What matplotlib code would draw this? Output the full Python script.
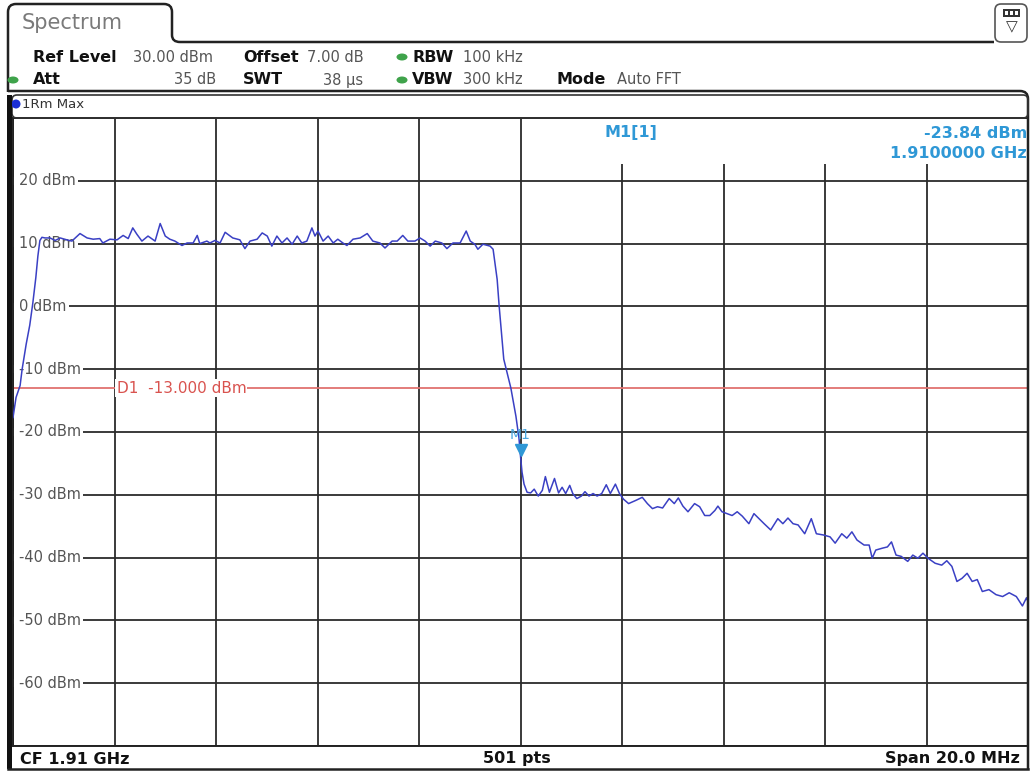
import matplotlib
matplotlib.use("Agg")
import matplotlib.pyplot as plt
from matplotlib.path import Path
from matplotlib.patches import PathPatch, FancyBboxPatch, Rectangle, Ellipse, Circle
from matplotlib.transforms import blended_transform_factory, ScaledTranslation

W, H = 1030, 771

# sweep settings
start_mhz = 1900.0
span_mhz = 20.0
n_points = 501

# trace (frequency offset from start, MHz) and level (dBm)
offset_mhz = [
    0.00, 0.06, 0.14, 0.18, 0.26, 0.33, 0.39, 0.45, 0.49, 0.53,
    0.57, 0.63, 0.73, 0.83, 0.93, 1.06, 1.16, 1.32, 1.46, 1.58,
    1.71, 1.77, 1.91, 2.05, 2.17, 2.27, 2.36, 2.44, 2.54, 2.66,
    2.80, 2.90, 3.00, 3.09, 3.19, 3.33, 3.43, 3.55, 3.63, 3.68,
    3.82, 3.88, 3.98, 4.08, 4.18, 4.33, 4.47, 4.57, 4.67, 4.81,
    4.91, 5.01, 5.10, 5.20, 5.30, 5.40, 5.50, 5.60, 5.69, 5.79,
    5.89, 5.95, 6.01, 6.11, 6.21, 6.31, 6.40, 6.50, 6.58, 6.70,
    6.84, 6.98, 7.09, 7.23, 7.33, 7.47, 7.57, 7.68, 7.78, 7.92,
    8.02, 8.12, 8.22, 8.32, 8.45, 8.55, 8.67, 8.81, 8.93, 9.01,
    9.10, 9.16, 9.26, 9.40, 9.46, 9.54, 9.58, 9.67, 9.75, 9.81,
    9.91, 9.97, 10.00, 10.03, 10.07, 10.13, 10.20, 10.27, 10.35, 10.43,
    10.49, 10.57, 10.67, 10.75, 10.82, 10.89, 10.97, 11.03, 11.11, 11.20,
    11.27, 11.35, 11.43, 11.51, 11.60, 11.69, 11.77, 11.87, 11.95, 12.03,
    12.13, 12.27, 12.40, 12.50, 12.60, 12.70, 12.80, 12.93, 13.03, 13.11,
    13.20, 13.30, 13.43, 13.53, 13.63, 13.73, 13.83, 13.89, 13.97, 14.07,
    14.17, 14.27, 14.37, 14.50, 14.60, 14.70, 14.80, 14.93, 15.07, 15.17,
    15.27, 15.37, 15.47, 15.60, 15.73, 15.83, 15.97, 16.10, 16.20, 16.33,
    16.43, 16.53, 16.63, 16.77, 16.87, 16.93, 17.00, 17.13, 17.23, 17.31,
    17.40, 17.50, 17.63, 17.73, 17.83, 17.93, 18.03, 18.17, 18.30, 18.40,
    18.50, 18.60, 18.70, 18.80, 18.90, 19.00, 19.10, 19.23, 19.37, 19.50,
    19.63, 19.77, 19.89, 19.97, 20.00,
]
level_dbm = [
    -17.7, -14.5, -12.6, -10.0, -6.0, -3.0, 0.5, 4.6, 8.0, 10.5,
    11.0, 10.9, 10.9, 10.5, 10.9, 10.6, 10.4, 11.6, 10.9, 10.7,
    10.8, 10.1, 10.7, 10.6, 11.3, 10.8, 12.5, 11.5, 10.4, 11.2,
    10.4, 13.2, 11.2, 10.7, 10.4, 9.7, 10.1, 10.1, 11.3, 10.0,
    10.4, 10.1, 10.5, 10.1, 11.8, 10.9, 10.6, 9.2, 10.4, 10.7,
    11.7, 11.2, 9.6, 11.2, 10.1, 10.9, 9.9, 11.2, 10.1, 10.4,
    12.5, 11.2, 12.0, 10.4, 11.2, 10.1, 10.7, 10.1, 9.7, 10.7,
    10.9, 11.6, 10.4, 10.1, 9.3, 10.4, 10.4, 11.3, 10.4, 10.4,
    10.9, 10.4, 9.6, 10.4, 10.1, 9.2, 10.1, 10.1, 12.0, 10.4,
    9.9, 9.1, 9.9, 9.6, 9.1, 4.3, 0.0, -8.4, -11.0, -13.0,
    -17.5, -21.0, -23.84, -26.4, -28.3, -29.6, -29.7, -29.1, -30.2, -29.3,
    -27.1, -29.6, -27.4, -29.7, -28.8, -29.8, -28.5, -29.8, -30.6, -30.2,
    -29.5, -30.2, -29.8, -30.2, -29.8, -28.4, -29.8, -28.3, -29.8, -30.7,
    -31.4, -30.9, -30.4, -31.4, -32.2, -31.9, -32.1, -30.6, -31.4, -30.5,
    -31.8, -32.7, -31.4, -31.9, -33.3, -33.3, -32.5, -31.8, -32.7, -33.0,
    -33.3, -32.7, -33.4, -34.6, -33.0, -33.8, -34.6, -35.6, -33.8, -34.6,
    -33.7, -34.6, -34.8, -36.2, -33.8, -36.2, -36.4, -36.7, -37.7, -36.2,
    -36.9, -35.9, -37.2, -38.0, -38.0, -40.1, -38.8, -38.5, -38.3, -37.5,
    -39.6, -39.8, -40.6, -39.6, -40.1, -39.3, -40.1, -40.9, -41.2, -40.5,
    -41.4, -43.8, -43.3, -42.5, -43.8, -43.5, -45.4, -45.1, -45.9, -46.2,
    -45.6, -46.2, -47.7, -46.4, -47.0,
]

ref_level = 30
bottom_level = -70
level_ticks = [20, 10, 0, -10, -20, -30, -40, -50, -60]
display_line = -13.0
marker_mhz = 1910.0
marker_level = -23.84

row1 = [("Ref Level", "30.00 dBm"), ("Offset", "7.00 dB"), ("RBW", "100 kHz")]
row2 = [("Att", "35 dB"), ("SWT", "38 µs"), ("VBW", "300 kHz"), ("Mode", "Auto FFT")]

freq_mhz = [start_mhz + f for f in offset_mhz]
center_mhz = start_mhz + span_mhz / 2

GRID = "#2b2b2b"
TRACE = "#3a40c4"
MARK = "#2f98d6"
RED = "#e07270"
GREEN = "#3fa34b"

fig = plt.figure(figsize=(W / 100, H / 100), dpi=100)
fig.patch.set_facecolor("white")

# ---- main plot area (pixel box 13..1028 x 118..746)
x0, x1, y0, y1 = 13, 1028, 118, 746
ax = fig.add_axes([x0 / W, 1 - y1 / H, (x1 - x0) / W, (y1 - y0) / H], zorder=1)
ax.set_xlim(start_mhz, start_mhz + span_mhz)
ax.set_ylim(bottom_level, ref_level)
ax.set_xticks([start_mhz + 2 * i for i in range(11)])
ax.set_yticks(range(bottom_level, ref_level + 1, 10))
ax.set_axisbelow(True)
ax.grid(True, color=GRID, lw=1.3)
ax.tick_params(length=0, labelleft=False, labelbottom=False)
for s in ax.spines.values():
    s.set_color("#222222")
    s.set_linewidth(1.4)

# white box for marker readout hides the grid there
ax.add_patch(Rectangle(((540 - x0) / (x1 - x0), (y1 - 164) / (y1 - y0)), 1, 1,
                       transform=ax.transAxes, fc="white", ec="none", zorder=1))

# level labels sit inside the grid, the grid line starts after them
lab_tr = blended_transform_factory(ax.transAxes, ax.transData)
for v in level_ticks:
    ax.add_patch(Rectangle((0, v - 0.6), 0.01, 1.2, transform=lab_tr,
                           fc="white", ec="none", zorder=1.1))
    ax.text(0.006, v, f"{v} dBm", transform=lab_tr, ha="left", va="center",
            fontsize=10.5, color="#555555", zorder=1.2,
            bbox=dict(fc="white", ec="none", pad=1.5))

# display line D1
ax.axhline(display_line, color=RED, lw=1.3, zorder=1.5)
ax.text(start_mhz + 2.04, display_line, f"D1  {display_line:.3f} dBm", ha="left", va="center",
        fontsize=11, color="#d9534f", zorder=1.6, bbox=dict(fc="white", ec="none", pad=0.8))

ax.plot(freq_mhz, level_dbm, color=TRACE, lw=1.1, zorder=3)

# marker M1
up = ScaledTranslation(0, 4.5 / 72, fig.dpi_scale_trans)
ax.plot([marker_mhz], [marker_level], marker="v", ms=9, color=MARK, zorder=4,
        transform=ax.transData + up)
ax.annotate("M1", xy=(marker_mhz, marker_level), xytext=(0, 15), textcoords="offset points",
            ha="center", va="center", fontsize=10, color="#4aa8e0", zorder=4)

# ---- overlay in pixel coordinates for the instrument frame
ui = fig.add_axes([0, 0, 1, 1], zorder=5)
ui.set_xlim(0, W)
ui.set_ylim(H, 0)
ui.axis("off")
ui.patch.set_alpha(0)

C3 = Path.CURVE3
tab = Path([(8, 92), (8, 12), (8, 4), (16, 4), (164, 4), (172, 4), (172, 12),
            (172, 35), (172, 42), (180, 42), (994, 42)],
           [Path.MOVETO, Path.LINETO, C3, C3, Path.LINETO, C3, C3, Path.LINETO, C3, C3, Path.LINETO])
ui.add_patch(PathPatch(tab, fill=False, ec="#222222", lw=1.8))
ui.text(22, 23, "Spectrum", fontsize=15, color="#7a7a7a", va="center", ha="left")

# header bottom edge running into the right border
hdr = Path([(8, 91), (1020, 91), (1028, 91), (1028, 99), (1028, 769)],
           [Path.MOVETO, Path.LINETO, C3, C3, Path.LINETO])
ui.add_patch(PathPatch(hdr, fill=False, ec="#222222", lw=1.8))

# settings button at top right
ui.add_patch(FancyBboxPatch((995, 4), 32, 38, boxstyle="round,pad=0,rounding_size=6",
                            fc="white", ec="#555555", lw=1.2))
ui.add_patch(Rectangle((1003, 9), 17, 8, fc="#333333", ec="none"))
for cx in (1005, 1010, 1015):
    ui.add_patch(Rectangle((cx, 11), 3, 4, fc="white", ec="none"))
ui.text(1011.5, 27, "▽", fontsize=11, color="#333333", ha="center", va="center")

# header rows
bold_x1 = [33, 243, 412]
val_x1 = [(133, "left"), (307, "left"), (463, "left")]
for (lab, val), bx, (vx, ha) in zip(row1, bold_x1, val_x1):
    ui.text(bx, 57, lab, fontsize=11.5, fontweight="bold", color="#111111", va="center")
    ui.text(vx, 57, val, fontsize=10.5, color="#555555", va="center", ha=ha)
bold_x2 = [33, 243, 412, 557]
val_x2 = [(216, "right"), (363, "right"), (463, "left"), (617, "left")]
for (lab, val), bx, (vx, ha) in zip(row2, bold_x2, val_x2):
    ui.text(bx, 80, lab, fontsize=11.5, fontweight="bold", color="#111111", va="center")
    ui.text(vx, 80, val, fontsize=10.5, color="#555555", va="center", ha=ha)
for cx, cy in [(13, 80), (402, 57), (402, 80)]:
    ui.add_patch(Ellipse((cx, cy), 11, 7, fc=GREEN, ec="none"))

# trace label bar
ui.add_patch(FancyBboxPatch((12, 95), 1016, 23, boxstyle="round,pad=0,rounding_size=5",
                            fc="none", ec="#333333", lw=1.2))
ui.add_patch(Circle((16, 104), 4.5, fc="#1b2fd6", ec="none"))
ui.text(22, 104, "1Rm Max", fontsize=9.5, color="#333333", va="center")

# thick left edge of the diagram
ui.add_patch(Rectangle((7, 95), 5, 674, fc="#111111", ec="none"))

# marker readout
ui.text(605, 133, "M1[1]", fontsize=11.5, fontweight="bold", color=MARK, va="center")
ui.text(1027, 133, f"{marker_level:.2f} dBm", fontsize=11.5, fontweight="bold",
        color=MARK, va="center", ha="right")
ui.text(1027, 153, f"{marker_mhz / 1000:.7f} GHz", fontsize=11.5, fontweight="bold",
        color=MARK, va="center", ha="right")

# footer
ui.plot([8, 1028], [769, 769], color="#222222", lw=1.8)
ui.text(20, 759, f"CF {center_mhz / 1000:.2f} GHz", fontsize=11.5, fontweight="bold",
        color="#111111", va="center")
ui.text(517, 759, f"{n_points} pts", fontsize=11.5, fontweight="bold", color="#111111",
        va="center", ha="center")
ui.text(1020, 759, f"Span {span_mhz:.1f} MHz", fontsize=11.5, fontweight="bold",
        color="#111111", va="center", ha="right")

fig.savefig("out.png", dpi=100, facecolor="white")
